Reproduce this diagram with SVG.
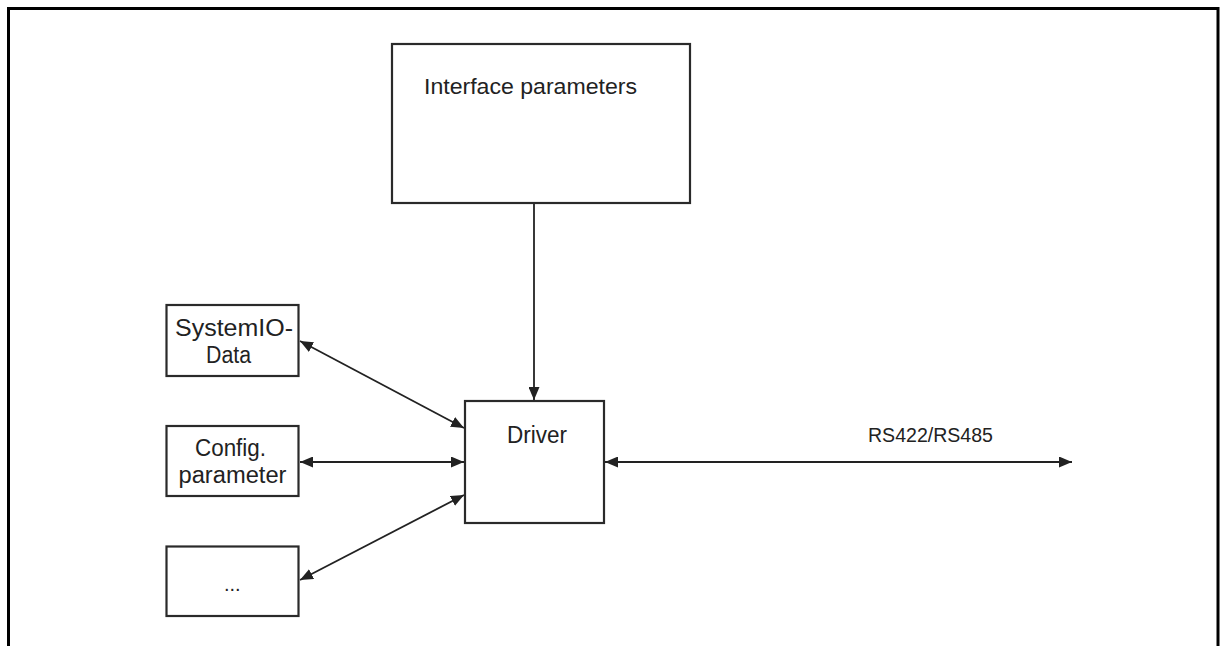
<svg xmlns="http://www.w3.org/2000/svg" width="1223" height="646" viewBox="0 0 1223 646">
<defs>
<marker id="ah" viewBox="0 0 13 11" refX="13" refY="5.5" markerWidth="13" markerHeight="11" markerUnits="userSpaceOnUse" orient="auto-start-reverse">
<path d="M0,0 L13,5.5 L0,11 z" fill="#222"/>
</marker>
<style>
.box{fill:#fff;stroke:#2a2a2a;stroke-width:2.2}
.t{font-family:"Liberation Sans",Arial,sans-serif;fill:#222}
.c{fill:none;stroke:#222;stroke-width:1.8}
</style>
</defs>
<rect x="0" y="0" width="1223" height="646" fill="#fff"/>
<rect x="8.5" y="8.5" width="1209.5" height="700" fill="none" stroke="#000" stroke-width="3"/>
<g id="connectors">
<line class="c" x1="534" y1="203" x2="534" y2="400" marker-end="url(#ah)"/>
<line class="c" x1="300" y1="341" x2="464" y2="428" marker-start="url(#ah)" marker-end="url(#ah)"/>
<line class="c" x1="300" y1="462" x2="464" y2="462" marker-start="url(#ah)" marker-end="url(#ah)"/>
<line class="c" x1="300" y1="580" x2="464" y2="495" marker-start="url(#ah)" marker-end="url(#ah)"/>
<line class="c" x1="605" y1="462" x2="1072" y2="462" marker-start="url(#ah)" marker-end="url(#ah)"/>
<text class="t" x="868" y="442" font-size="20" textLength="125" lengthAdjust="spacingAndGlyphs">RS422/RS485</text>
</g>
<g id="interface">
<rect class="box" x="392" y="44" width="298" height="159"/>
<text class="t" x="424" y="94" font-size="22" textLength="213" lengthAdjust="spacingAndGlyphs">Interface parameters</text>
</g>
<g id="driver">
<rect class="box" x="465" y="401" width="139" height="122"/>
<text class="t" x="507" y="443" font-size="23" textLength="60" lengthAdjust="spacingAndGlyphs">Driver</text>
</g>
<g id="systemio">
<rect class="box" x="166.5" y="305" width="132" height="71"/>
<text class="t" x="175" y="336" font-size="23" textLength="118" lengthAdjust="spacingAndGlyphs">SystemIO-</text>
<text class="t" x="206" y="363" font-size="23" textLength="45" lengthAdjust="spacingAndGlyphs">Data</text>
</g>
<g id="config">
<rect class="box" x="166.5" y="426" width="132" height="70"/>
<text class="t" x="195" y="455.5" font-size="23" textLength="71" lengthAdjust="spacingAndGlyphs">Config.</text>
<text class="t" x="178.5" y="483" font-size="23" textLength="108" lengthAdjust="spacingAndGlyphs">parameter</text>
</g>
<g id="more">
<rect class="box" x="166.5" y="546.5" width="132" height="69.5"/>
<text class="t" x="224" y="591" font-size="20" fill="#666">...</text>
</g>
</svg>
